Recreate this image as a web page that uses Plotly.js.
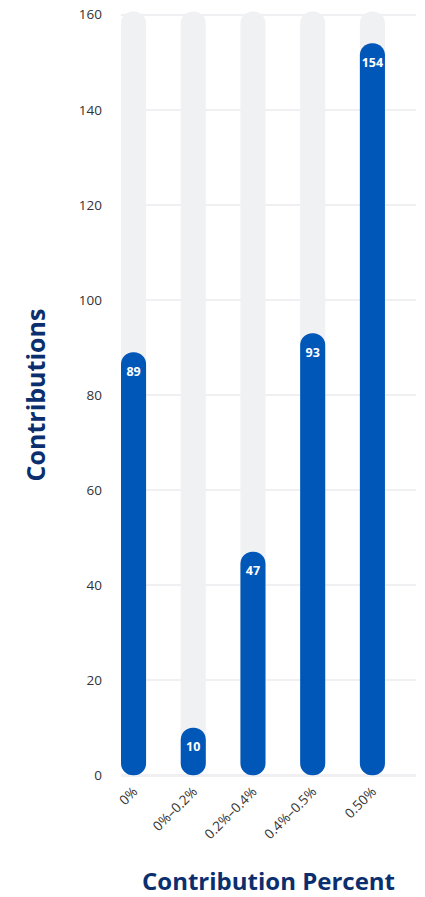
<!DOCTYPE html>
<html>
<head>
<meta charset="utf-8">
<script src="https://cdn.plot.ly/plotly-3.0.1.min.js"></script>
<style>html,body{margin:0;padding:0;background:#fff;}#chart{width:425px;height:897px;}</style>
</head>
<body>
<div id="chart"></div>
<script>
const categories = ["0%", "0%\u20130.2%", "0.2%\u20130.4%", "0.4%\u20130.5%", "0.50%"];
const contributions = [89, 10, 47, 93, 154];
const maxValue = 160;
const yTicks = [0, 20, 40, 60, 80, 100, 120, 140, 160];

const baseVal = 0.001;
const blue = "#0057B8";
const gray = "#F0F1F3";
const navy = "#0B2F6E";
const font = "'Open Sans', Lato, sans-serif";

function bar(y, color) {
  return {type: "bar", x: categories, y: y, base: categories.map(() => baseVal), width: 0.42, hoverinfo: "skip",
          marker: {color: color, cornerradius: "50%"}};
}

const traces = [
  bar(categories.map(() => maxValue + 0.7), gray),
  bar(contributions, blue),
  {type: "scatter", mode: "text", x: categories, y: contributions.map(v => v - 4.3), text: contributions.map(String),
   textfont: {color: "#ffffff", size: 12.5, family: font, weight: 700}, hoverinfo: "skip"}
];

const layout = {
  width: 425, height: 897,
  margin: {l: 121, r: 9, t: 10, b: 117},
  paper_bgcolor: "#fff", plot_bgcolor: "#fff",
  barmode: "overlay",
  showlegend: false,
  font: {family: font, color: "#333", size: 13},
  xaxis: {
    type: "category",
    range: [-0.21, 4.73],
    tickangle: -45,
    showgrid: false, zeroline: false, showline: false, ticks: "",
    tickfont: {size: 13.5, color: "#333"},
    title: {text: "Contribution Percent", font: {size: 24, color: navy, weight: 700}, standoff: 34}
  },
  yaxis: {
    range: [-1, 161],
    tickvals: yTicks,
    ticktext: yTicks.map(String),
    showgrid: true, gridcolor: "#F0F0F2", gridwidth: 2.5,
    zeroline: false, showline: false, ticks: "",
    ticklabelstandoff: 18,
    tickfont: {size: 13.5, color: "#333"},
    title: {text: "Contributions", font: {size: 25, color: navy, weight: 700}, standoff: 26}
  }
};

Plotly.newPlot("chart", traces, layout, {displayModeBar: false, staticPlot: true});
</script>
</body>
</html>
